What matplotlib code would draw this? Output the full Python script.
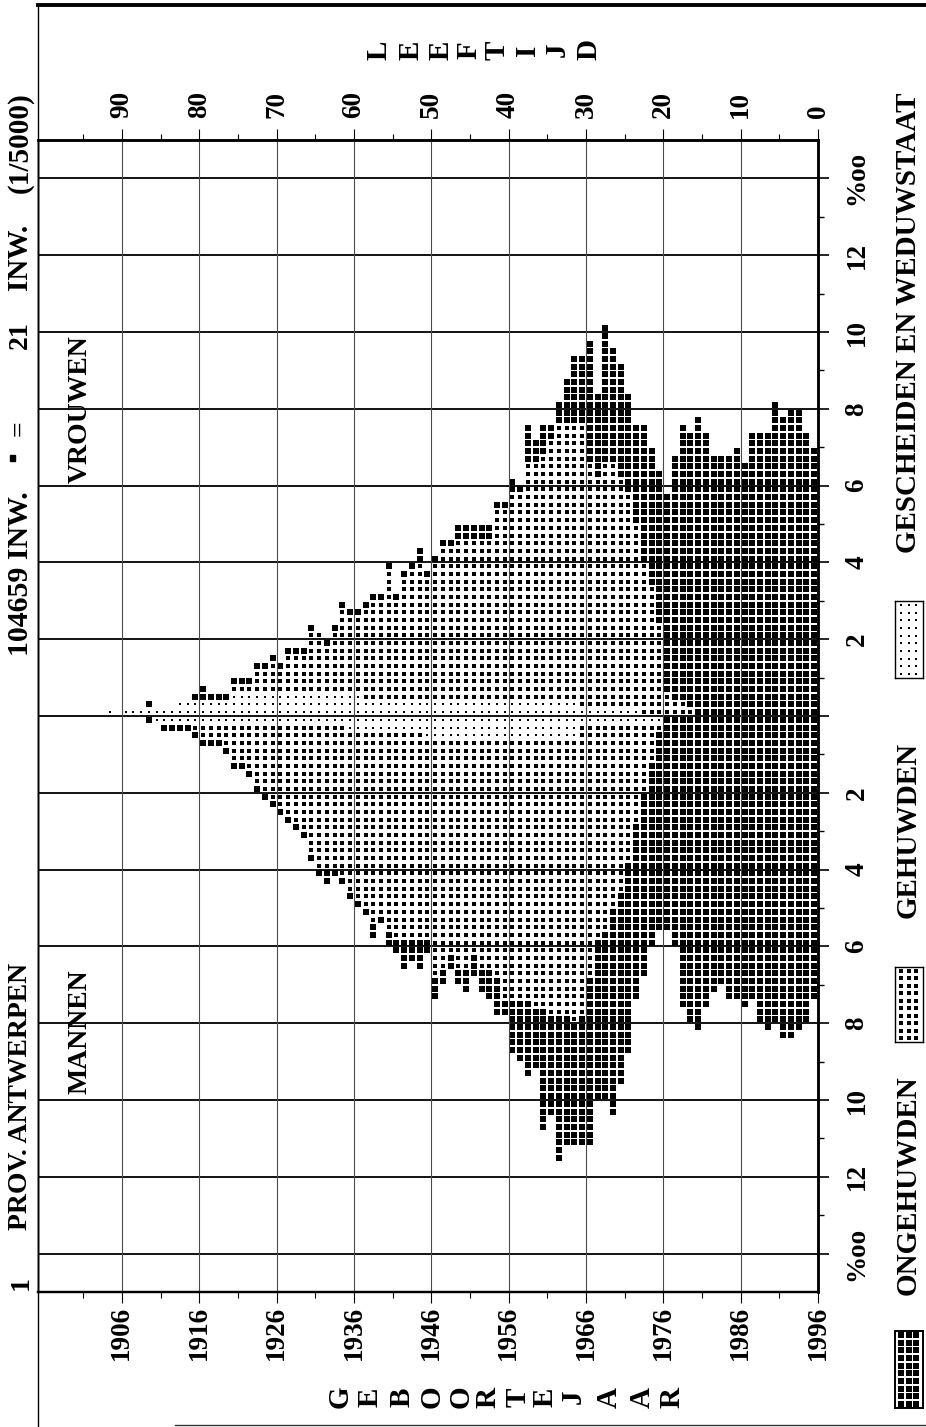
import numpy as np
import matplotlib
matplotlib.use('Agg')
import matplotlib.pyplot as plt
from matplotlib.lines import Line2D
from matplotlib.patches import Rectangle

plt.rcParams['font.family'] = ['Liberation Serif', 'DejaVu Serif']
plt.rcParams['font.weight'] = 'bold'

W, H = 926, 1427

# number of dots per age (age 0 = first entry), one dot = 0.2 promille
women_total = [35, 37, 40, 40, 39, 41, 37, 37, 37, 33, 35, 34, 34, 34, 37, 39, 37, 38, 34, 29,
	32, 35, 38, 38, 42, 46, 48, 51, 42, 49, 47, 47, 44, 41, 38, 38, 36, 38, 30, 31,
	28, 28, 25, 25, 25, 25, 25, 23, 23, 21, 19, 22, 20, 19, 16, 20, 16, 16, 15, 14,
	14, 15, 12, 10, 11, 12, 9, 9, 9, 7, 8, 7, 7, 5, 5, 5, 3, 3, 3, 4,
	3, 2, 2, 1, 1, 1, 2, 1, 1, 1, 0, 1]
women_married = [0]*16 + [1, 2, 2, 3,
	12, 17, 20, 24, 28, 30, 32, 32, 30, 32, 37, 36, 36, 36, 34, 32, 31, 31, 27, 27,
	25, 25, 21, 21, 21, 21, 21, 20, 20, 18, 16, 18, 17, 16, 13, 17, 13, 13, 12, 10,
	10, 11, 8, 6, 8, 8, 5, 5, 5, 3, 4, 3, 3, 1, 1, 1] + [0]*16
women_other = [0]*23 + [1]*8 + [2]*28 + [3]*17 + [2]*7 + [1]*7 + [0, 1]

men_total = [37, 40, 41, 42, 42, 40, 41, 40, 37, 38, 37, 37, 35, 36, 38, 41, 40, 38, 30, 28,
	28, 30, 34, 37, 44, 48, 52, 50, 50, 56, 56, 56, 56, 58, 52, 54, 46, 47, 45, 44,
	39, 39, 37, 36, 34, 36, 35, 33, 35, 37, 31, 33, 32, 33, 31, 30, 27, 29, 26, 25,
	24, 22, 21, 22, 21, 19, 16, 15, 14, 13, 12, 11, 10, 8, 7, 7, 5, 4, 4, 4,
	3, 2, 2, 2, 2, 1, 1]
men_married = [0]*20 + [1, 5, 9, 13, 18, 22, 24, 27, 28, 33, 38, 37, 36, 36, 36, 35, 35, 34, 34, 34,
	34, 31, 30, 30, 28, 30, 30, 28, 30, 31, 26, 27, 27, 27, 27, 26, 24, 25, 23, 22,
	21, 20, 19, 19, 19, 17, 14, 13, 12, 11, 10, 9, 8, 6, 5, 5, 3, 2, 2, 2,
	1, 0, 0, 0, 0, 0, 0]
men_other = [0]*20 + [1]*11 + [3]*20 + [2]*10 + [1]*25 + [0]

age_ticks = [0, 10, 20, 30, 40, 50, 60, 70, 80, 90]
age_minor = [5, 15, 25, 35, 45, 55, 65, 75, 85, 95]
year_labels = ['1996', '1986', '1976', '1966', '1956', '1946', '1936', '1926', '1916', '1906']
pro_ticks = [-14, -12, -10, -8, -6, -4, -2, 0, 2, 4, 6, 8, 10, 12, 14]
pro_labels = ['%oo', '12', '10', '8', '6', '4', '2', '', '2', '4', '6', '8', '10', '12', '%oo']

leeftijd = ['L', 'E', 'E', 'F', 'T', 'I', 'J', 'D']
leeftijd_x = [379, 411, 441, 469, 497, 527, 557, 589]
geboortejaar = ['G', 'E', 'B', 'O', 'O', 'R', 'T', 'E', 'J', 'A', 'A', 'R']
geboortejaar_x = [340, 370, 402, 432, 461, 488, 518, 545, 573, 609, 642, 672]

fig = plt.figure(figsize=(W/100, H/100), dpi=100)
fig.patch.set_facecolor('white')


def px_rect(x0, y0, x1, y1):
	return [x0/W, 1-y1/H, (x1-x0)/W, (y1-y0)/H]


def ftext(x, y, s, size=20, **kw):
	fig.text(x/W, 1-y/H, s, fontsize=size, rotation=90, ha='center', va='center', **kw)


ax = fig.add_axes(px_rect(38, 140, 818, 1292))
ax.set_xlim((818-38)/7.735, 0)
ax.set_ylim(-15, 15)
ax2 = ax.twiny()
ax2.set_xlim(ax.get_xlim())


def rows(total, married, other, side):
	xs = [[], [], []]
	ys = [[], [], []]
	for age, (t, m, o) in enumerate(zip(total, married, other)):
		for n in range(t):
			if n < o:
				k = 0
			elif n < o+m:
				k = 1
			else:
				k = 2
			xs[k].append(age+0.5)
			ys[k].append(side*(n+0.5)*0.2)
	return xs, ys


sizes = [2.2, 10, 20]
for total, married, other, side in [(women_total, women_married, women_other, 1),
		(men_total, men_married, men_other, -1)]:
	xs, ys = rows(total, married, other, side)
	for k in range(3):
		ax.scatter(xs[k], ys[k], s=sizes[k], marker='s', c='black', linewidths=0, zorder=2)

for y in pro_ticks:
	ax.axhline(y, color='black', lw=1.3, zorder=3)
for x in age_ticks[1:]:
	ax.axvline(x, color='#4a4a4a', lw=0.8, zorder=3)

ax.xaxis.tick_top()
ax.set_xticks(age_ticks)
ax.set_xticklabels([str(a) for a in age_ticks], rotation=90, fontsize=19.5)
ax.set_xticks(age_minor, minor=True)
ax.tick_params(axis='x', which='major', length=8, width=0.8, pad=8)
ax.tick_params(axis='x', which='minor', length=4, width=0.8)

ax.yaxis.tick_right()
ax.set_yticks(pro_ticks)
ax.set_yticklabels(pro_labels, rotation=90, va='center', ha='center', fontsize=19.5)
ax.set_yticks(np.arange(-13, 14, 2), minor=True)
ax.tick_params(axis='y', which='major', length=8, width=1.2, pad=20)
ax.tick_params(axis='y', which='minor', length=4, width=1.0)

ax2.xaxis.tick_bottom()
ax2.set_xticks(age_ticks)
ax2.set_xticklabels(year_labels, rotation=90, fontsize=19.5)
ax2.set_xticks(age_minor, minor=True)
ax2.tick_params(axis='x', which='major', length=8, width=0.8, pad=2)
ax2.tick_params(axis='x', which='minor', length=4, width=0.8)

for a in (ax, ax2):
	a.spines['top'].set_linewidth(1.8)
	a.spines['bottom'].set_linewidth(1.6)
	a.spines['right'].set_linewidth(1.8)
	a.spines['left'].set_linewidth(1.0)

# outer frame of the page
fig.add_artist(Line2D([38/W, 38/W], [0, 1-5/H], color='black', lw=1.0))
fig.add_artist(Line2D([38/W, 1], [1-5/H, 1-5/H], color='black', lw=2.8))
fig.add_artist(Line2D([175/W, 1], [1-1425/H, 1-1425/H], color='#333333', lw=1.0))

# title column
ftext(21, 1283, '1')
ftext(21, 1096, 'PROV. ANTWERPEN')
ftext(21, 574, '104659 INW.', size=21.5)
fig.add_artist(Rectangle((9.5/W, 1-461/H), 5/W, 6/H, color='black'))
ftext(20, 428, '=')
ftext(20, 335, '21')
ftext(20, 257, 'INW.', size=21)
ftext(20, 143, '(1/5000)', size=21)
ftext(80, 409, 'VROUWEN')
ftext(80, 1032, 'MANNEN')

for s, x in zip(leeftijd, leeftijd_x):
	ftext(x, 50, s, size=21)
for s, x in zip(geboortejaar, geboortejaar_x):
	ftext(x, 1397, s, size=21)

# legend
ftext(908, 1185, 'ONGEHUWDEN', size=21)
ftext(908, 830, 'GEHUWDEN', size=21)
ftext(908, 323, 'GESCHEIDEN EN WEDUWSTAAT', size=21)

for (y0, y1, k, s) in [(1331, 1408, 2, 20), (967, 1042, 1, 12), (601, 678, 0, 4)]:
	sw = fig.add_axes(px_rect(895, y0, 923, y1))
	sw.set_xlim(0, 28)
	sw.set_ylim(0, 10)
	gx, gy = np.meshgrid([5.5, 13.5, 21.5], np.arange(0.5, 10, 1))
	sw.scatter(gx.ravel(), gy.ravel(), s=s, marker='s', c='black', linewidths=0)
	sw.set_xticks([])
	sw.set_yticks([])
	for sp in sw.spines.values():
		sp.set_linewidth(1.4 if k == 2 else 1.0)

fig.savefig('out.png', dpi=100)
